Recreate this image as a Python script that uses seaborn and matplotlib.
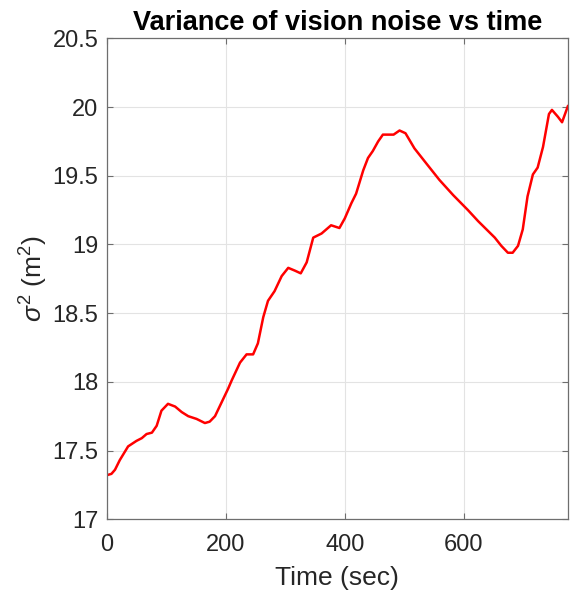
import matplotlib
matplotlib.use("Agg")
import matplotlib.pyplot as plt
import seaborn as sns
import pandas as pd
from matplotlib.ticker import FixedLocator, FormatStrFormatter

# Vision-noise variance sampled over the run
time_sec = [0, 8, 14, 22, 36, 50, 59, 67, 76, 84, 92, 103, 115, 126, 137, 151,
            165, 173, 182, 193, 204, 210, 224, 235, 246, 254, 263, 271, 282, 294,
            305, 316, 326, 336, 347, 361, 377, 391, 400, 411, 419, 431, 439, 447,
            456, 464, 474, 482, 492, 502, 517, 537, 559, 582, 607, 624, 638, 652,
            663, 674, 682, 691, 699, 707, 716, 724, 733, 743, 748, 758, 765, 775]
variance = [17.32, 17.33, 17.36, 17.43, 17.53, 17.57, 17.59, 17.62, 17.63, 17.68,
            17.79, 17.84, 17.82, 17.78, 17.75, 17.73, 17.70, 17.71, 17.75, 17.85,
            17.95, 18.01, 18.14, 18.20, 18.20, 18.28, 18.47, 18.59, 18.66, 18.77,
            18.83, 18.81, 18.79, 18.87, 19.05, 19.08, 19.14, 19.12, 19.19, 19.30,
            19.37, 19.54, 19.63, 19.68, 19.75, 19.80, 19.80, 19.80, 19.83, 19.81,
            19.70, 19.59, 19.47, 19.36, 19.25, 19.17, 19.11, 19.05, 18.99, 18.94,
            18.94, 18.99, 19.11, 19.35, 19.51, 19.56, 19.71, 19.95, 19.98, 19.93,
            19.89, 20.01]

x_ticks = [0, 200, 400, 600]
y_ticks = [17, 17.5, 18, 18.5, 19, 19.5, 20, 20.5]

df = pd.DataFrame({"time": time_sec, "variance": variance})

sns.set_theme(style="whitegrid")
plt.rcParams["font.family"] = ["Liberation Sans", "DejaVu Sans"]
plt.rcParams["mathtext.fontset"] = "custom"
plt.rcParams["mathtext.rm"] = "Liberation Sans"
plt.rcParams["mathtext.it"] = "Liberation Sans:italic"

fig = plt.figure(figsize=(5.72, 5.92), dpi=100)
ax = fig.add_axes([0.1865, 0.123, 0.806, 0.812])

sns.lineplot(data=df, x="time", y="variance", ax=ax, color="#ff0000",
             linewidth=1.8, estimator=None, sort=False)
for ln in ax.lines:
    ln.set_solid_joinstyle("round")
    ln.set_solid_capstyle("round")

ax.set_xlim(0, 774.5)
ax.set_ylim(17, 20.5)
ax.xaxis.set_major_locator(FixedLocator(x_ticks))
ax.yaxis.set_major_locator(FixedLocator(y_ticks))
ax.yaxis.set_major_formatter(FormatStrFormatter("%g"))

ax.grid(True, color="#e3e3e3", linewidth=0.8)
for side in ["left", "right", "top", "bottom"]:
    ax.spines[side].set_visible(True)
    ax.spines[side].set_color("#6e6e6e")
    ax.spines[side].set_linewidth(0.9)

ax.tick_params(axis="both", direction="in", length=4, width=0.8,
               colors="#6e6e6e", labelcolor="#262626", labelsize=17,
               top=True, right=True, bottom=True, left=True)
ax.tick_params(axis="x", pad=11)
ax.tick_params(axis="y", pad=6)

ax.set_xlabel("Time (sec)", fontsize=19, color="#262626", labelpad=7)
ax.set_ylabel(r"$\sigma^2$ (m$^2$)", fontsize=19, color="#262626", labelpad=2)
ax.set_title("Variance of vision noise vs time", fontsize=19.5, fontweight="bold",
             color="#000000", pad=6)

fig.savefig("out.png", dpi=100)
